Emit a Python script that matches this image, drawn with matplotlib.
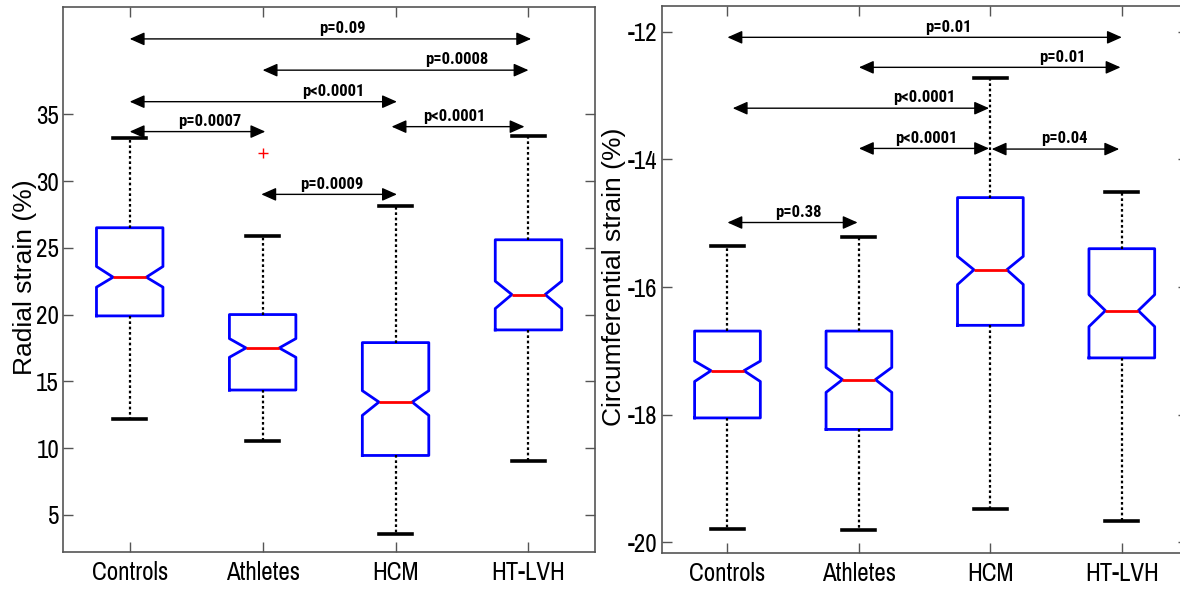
import matplotlib
matplotlib.use("Agg")
import matplotlib.pyplot as plt

plt.rcParams["axes.unicode_minus"] = False

# ----------------------------
# DATA
# ----------------------------
groups = ["Controls", "Athletes", "HCM", "HT-LVH"]

radial_med = [22.8, 17.5, 13.45, 21.5]
radial_q1 = [19.9, 14.35, 9.45, 18.85]
radial_q3 = [26.5, 20.0, 17.9, 25.6]
radial_lo = [12.2, 10.5, 3.6, 9.05]
radial_hi = [33.2, 25.9, 28.1, 33.4]
radial_ci_lo = [22.05, 16.8, 12.45, 20.45]
radial_ci_hi = [23.6, 18.2, 14.3, 22.5]
radial_fliers = [[], [32.1], [], []]

circ_med = [-17.31, -17.45, -15.73, -16.37]
circ_q1 = [-18.05, -18.23, -16.6, -17.11]
circ_q3 = [-16.69, -16.69, -14.6, -15.4]
circ_lo = [-19.79, -19.8, -19.47, -19.66]
circ_hi = [-15.36, -15.21, -12.73, -14.51]
circ_ci_lo = [-17.48, -17.65, -15.96, -16.62]
circ_ci_hi = [-17.16, -17.26, -15.52, -16.12]
circ_fliers = [[], [], [], []]

# comparisons: (label, x_start, x_end, y, text_x)
radial_pvals = [
    ("p=0.09", 1.0, 4.02, 40.64, 2.60),
    ("p=0.0008", 2.0, 4.0, 38.3, 3.46),
    ("p<0.0001", 1.0, 3.01, 35.94, 2.53),
    ("p=0.0007", 1.0, 2.02, 33.7, 1.60),
    ("p<0.0001", 2.97, 3.97, 34.07, 3.44),
    ("p=0.0009", 1.99, 3.01, 29.0, 2.52),
]
circ_pvals = [
    ("p=0.01", 1.0, 4.0, -12.09, 2.68),
    ("p=0.01", 2.0, 3.99, -12.56, 3.55),
    ("p<0.0001", 1.04, 2.99, -13.2, 2.50),
    ("p<0.0001", 2.0, 2.99, -13.83, 2.51),
    ("p=0.04", 3.01, 3.98, -13.84, 3.56),
    ("p=0.38", 1.0, 1.99, -14.99, 1.54),
]

NARROW = ["Liberation Sans Narrow", "Arial Narrow", "Archivo Narrow", "DejaVu Sans"]
NARROW_BOLD = ["Liberation Sans Narrow", "Arial Narrow", "Roboto Condensed",
               "Barlow Semi Condensed", "DejaVu Sans"]
LABEL_FONT = ["Liberation Sans", "DejaVu Sans"]
SPINE = "#555555"


def make_stats(med, q1, q3, lo, hi, cilo, cihi, fliers):
    stats = []
    for i in range(len(med)):
        stats.append({
            "med": med[i], "q1": q1[i], "q3": q3[i],
            "whislo": lo[i], "whishi": hi[i],
            "cilo": cilo[i], "cihi": cihi[i],
            "fliers": fliers[i],
        })
    return stats


def draw_panel(ax, stats, pvals, ylabel, ylim, yticks, label_x):
    ax.bxp(
        stats, positions=[1, 2, 3, 4], widths=0.5, shownotches=True,
        boxprops=dict(color="blue", linewidth=2.0),
        medianprops=dict(color="red", linewidth=2.0),
        whiskerprops=dict(color="black", linewidth=1.6, linestyle=(0, (1.2, 1.2))),
        capprops=dict(color="black", linewidth=2.6),
        flierprops=dict(marker="+", markeredgecolor="red", markersize=7,
                        markeredgewidth=1.0),
    )
    ax.set_xlim(0.5, 4.5)
    ax.set_ylim(*ylim)
    ax.set_yticks(yticks)
    ax.set_xticks([1, 2, 3, 4])
    ax.set_xticklabels(groups, family=NARROW, fontsize=18)
    for lbl in ax.get_yticklabels():
        lbl.set_family(NARROW)
        lbl.set_fontsize(18)
    ax.set_ylabel(ylabel, family=LABEL_FONT, fontsize=19)
    ax.yaxis.set_label_coords(label_x, 0.505)
    ax.tick_params(direction="in", top=True, right=True, length=7,
                   color=SPINE, width=1.0)
    ax.tick_params(axis="x", pad=6)
    ax.tick_params(axis="y", pad=3)
    for s in ax.spines.values():
        s.set_color(SPINE)
        s.set_linewidth(1.2)

    for label, x0, x1, y, tx in pvals:
        ax.annotate("", xy=(x1, y), xytext=(x0, y),
                    arrowprops=dict(arrowstyle="<|-|>,head_length=0.9,head_width=0.4",
                                    color="black", lw=1.0,
                                    shrinkA=0, shrinkB=0))
        ax.annotate(label, xy=(tx, y), xytext=(0, 2), textcoords="offset points",
                    ha="center", va="bottom", fontsize=12, fontweight="bold",
                    family=NARROW_BOLD)


fig = plt.figure(figsize=(11.8, 5.91), dpi=100)
ax1 = fig.add_axes([0.0536, 0.0655, 0.4506, 0.922])
ax2 = fig.add_axes([0.5608, 0.0638, 0.4456, 0.926])

draw_panel(ax1,
           make_stats(radial_med, radial_q1, radial_q3, radial_lo, radial_hi,
                      radial_ci_lo, radial_ci_hi, radial_fliers),
           radial_pvals, "Radial strain (%)", (2.2, 43.0),
           [5, 10, 15, 20, 25, 30, 35], -0.05)
draw_panel(ax2,
           make_stats(circ_med, circ_q1, circ_q3, circ_lo, circ_hi,
                      circ_ci_lo, circ_ci_hi, circ_fliers),
           circ_pvals, "Circumferential strain (%)", (-20.17, -11.6),
           [-20, -18, -16, -14, -12], -0.068)

fig.savefig("out.png", dpi=100)
